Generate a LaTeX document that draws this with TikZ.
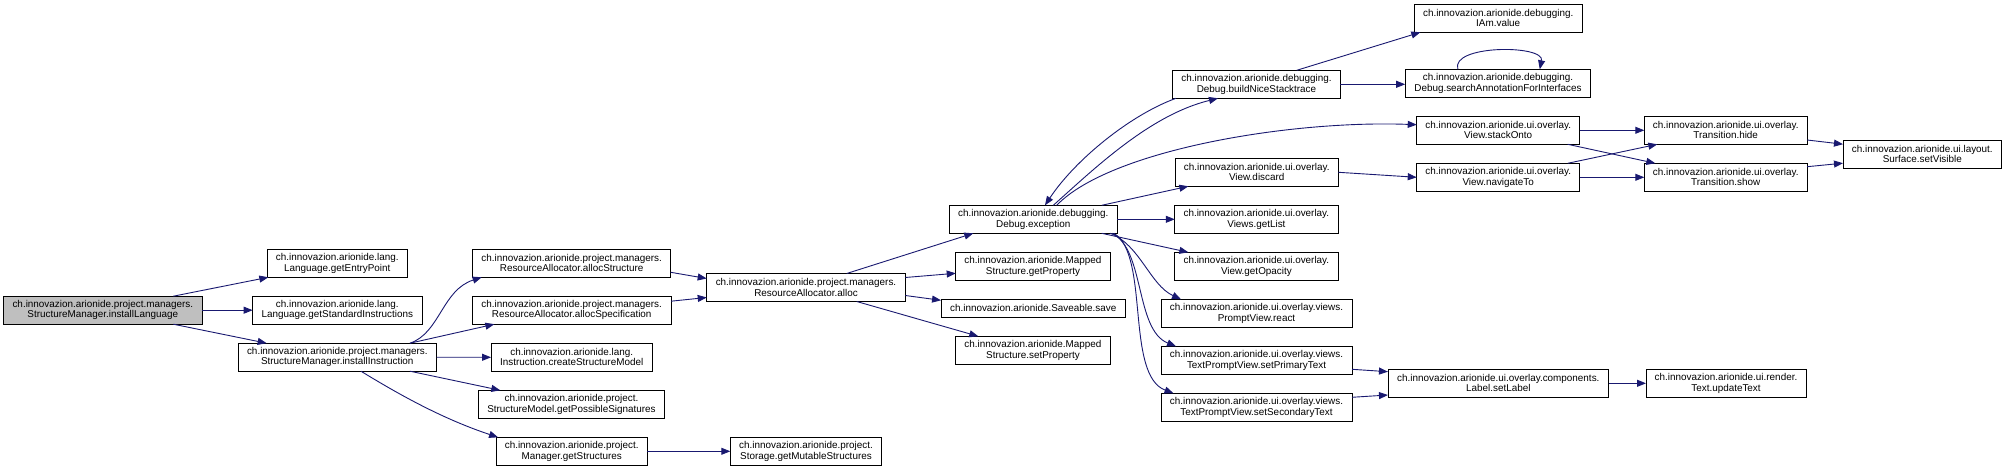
\documentclass[tikz,border=0pt]{standalone}
\usepackage{fontspec}
\setmainfont{Liberation Sans}
\usetikzlibrary{arrows.meta,calc}
\definecolor{edgecol}{HTML}{191970}
\definecolor{rootfill}{HTML}{BFBFBF}
\tikzset{
  fn/.style={draw=black, line width=0.9pt, fill=white, inner xsep=1pt, inner ysep=2pt, outer sep=0pt,
    minimum height=28pt, align=center, font=\fontsize{9.9pt}{10.3pt}\selectfont},
  fnroot/.style={fn, fill=rootfill},
  edge/.style={draw=edgecol, line width=0.9pt, -{Triangle[length=9pt,width=7pt]}},
}
\begin{document}
\begin{tikzpicture}[x=1pt,y=-1pt]
\useasboundingbox (0,0) rectangle (2006,470);
% column 0
\node[fnroot, minimum width=199pt] (root) at (102.8,310.2) {ch.innovazion.arionide.project.managers.\\StructureManager.installLanguage};
% column 1
\node[fn, minimum width=140pt] (gep) at (337.3,263.3) {ch.innovazion.arionide.lang.\\Language.getEntryPoint};
\node[fn, minimum width=169.3pt] (gsi) at (337.3,310.2) {ch.innovazion.arionide.lang.\\Language.getStandardInstructions};
\node[fn, minimum width=198.7pt] (ii) at (337.3,357.2) {ch.innovazion.arionide.project.managers.\\StructureManager.installInstruction};
% column 2
\node[fn, minimum width=198pt] (as) at (571.7,263.3) {ch.innovazion.arionide.project.managers.\\ResourceAllocator.allocStructure};
\node[fn, minimum width=198.7pt] (asp) at (571.7,310.2) {ch.innovazion.arionide.project.managers.\\ResourceAllocator.allocSpecification};
\node[fn, minimum width=161.3pt] (csm) at (571.7,357.3) {ch.innovazion.arionide.lang.\\Instruction.createStructureModel};
\node[fn, minimum width=186.4pt] (gps) at (571.5,404.3) {ch.innovazion.arionide.project.\\StructureModel.getPossibleSignatures};
\node[fn, minimum width=151.3pt] (mgs) at (571.7,451.3) {ch.innovazion.arionide.project.\\Manager.getStructures};
% column 3
\node[fn, minimum width=198.6pt] (alloc) at (806,287.5) {ch.innovazion.arionide.project.managers.\\ResourceAllocator.alloc};
\node[fn, minimum width=151.4pt] (sms) at (806,451.3) {ch.innovazion.arionide.project.\\Storage.getMutableStructures};
% column 4
\node[fn, minimum width=168pt] (exc) at (1033.3,219.3) {ch.innovazion.arionide.debugging.\\Debug.exception};
\node[fn, minimum width=154.6pt] (gp) at (1033,266.3) {ch.innovazion.arionide.Mapped\\Structure.getProperty};
\node[fn, minimum width=184.3pt, minimum height=18pt] (save) at (1033.2,308.3) {ch.innovazion.arionide.Saveable.save};
\node[fn, minimum width=154.6pt] (sp) at (1033,350.3) {ch.innovazion.arionide.Mapped\\Structure.setProperty};
% column 5
\node[fn, minimum width=167.6pt] (bn) at (1256.5,84.3) {ch.innovazion.arionide.debugging.\\Debug.buildNiceStacktrace};
\node[fn, minimum width=163.3pt] (disc) at (1256.7,172.3) {ch.innovazion.arionide.ui.overlay.\\View.discard};
\node[fn, minimum width=163.3pt] (gl) at (1256.4,219.3) {ch.innovazion.arionide.ui.overlay.\\Views.getList};
\node[fn, minimum width=163.3pt] (go) at (1256.4,266.3) {ch.innovazion.arionide.ui.overlay.\\View.getOpacity};
\node[fn, minimum width=191pt] (react) at (1256.5,313.3) {ch.innovazion.arionide.ui.overlay.views.\\PromptView.react};
\node[fn, minimum width=191pt] (prim) at (1256.5,360.3) {ch.innovazion.arionide.ui.overlay.views.\\TextPromptView.setPrimaryText};
\node[fn, minimum width=191pt] (sec) at (1256.5,407.3) {ch.innovazion.arionide.ui.overlay.views.\\TextPromptView.setSecondaryText};
% column 6
\node[fn, minimum width=167.7pt] (iam) at (1498.2,18.3) {ch.innovazion.arionide.debugging.\\IAm.value};
\node[fn, minimum width=185.7pt] (search) at (1498,83.3) {ch.innovazion.arionide.debugging.\\Debug.searchAnnotationForInterfaces};
\node[fn, minimum width=163pt] (so) at (1498.2,130.3) {ch.innovazion.arionide.ui.overlay.\\View.stackOnto};
\node[fn, minimum width=163pt] (nav) at (1498.2,177.3) {ch.innovazion.arionide.ui.overlay.\\View.navigateTo};
\node[fn, minimum width=220.7pt] (lab) at (1498.3,383.3) {ch.innovazion.arionide.ui.overlay.components.\\Label.setLabel};
% column 7
\node[fn, minimum width=162.8pt] (hide) at (1725.7,130.3) {ch.innovazion.arionide.ui.overlay.\\Transition.hide};
\node[fn, minimum width=162.8pt] (show) at (1725.7,177.3) {ch.innovazion.arionide.ui.overlay.\\Transition.show};
\node[fn, minimum width=160pt] (upd) at (1726,383.3) {ch.innovazion.arionide.ui.render.\\Text.updateText};
% column 8
\node[fn, minimum width=158.6pt] (surf) at (1922.3,154.2) {ch.innovazion.arionide.ui.layout.\\Surface.setVisible};

% edges from root
\draw[edge] ($(root.north west)+(170,0)$) -- ($(gep.south west)+(1,0)$);
\draw[edge] (root.east) -- (gsi.west);
\draw[edge] ($(root.south west)+(170,0)$) -- ($(ii.north west)+(28.7,0)$);
% edges from installInstruction
\draw[edge] ($(ii.north west)+(172,0)$) .. controls (440,333) and (442,290) .. ($(as.south west)+(9,0)$);
\draw[edge] ($(ii.north west)+(172,0)$) -- ($(asp.south west)+(22,0)$);
\draw[edge] (ii.east) -- (csm.west);
\draw[edge] ($(ii.south west)+(172,0)$) -- ($(gps.north west)+(22,0)$);
\draw[edge] ($(ii.south west)+(123,0)$) .. controls (395,392) and (440,418) .. ($(mgs.north west)+(2,0)$);
\draw[edge] (mgs.east) -- (sms.west);
% to alloc
\draw[edge] ($(as.east)+(0,9)$) -- ($(alloc.west)+(0,-9)$);
\draw[edge] ($(asp.east)+(0,-9)$) -- ($(alloc.west)+(0,10)$);
% from alloc
\draw[edge] ($(alloc.north west)+(140,0)$) -- ($(exc.south west)+(24,0)$);
\draw[edge] ($(alloc.east)+(0,-10)$) -- ($(gp.west)+(0,7)$);
\draw[edge] ($(alloc.east)+(0,8)$) -- ($(save.west)+(0,-8)$);
\draw[edge] ($(alloc.south west)+(150,0)$) -- ($(sp.north west)+(22.6,0)$);
% from Debug.exception
\draw[edge] ($(exc.north west)+(104,0)$) .. controls (1095,168) and (1150,115) .. ($(bn.south west)+(45.3,0)$);
\draw[edge] ($(bn.south west)+(3.3,0)$) .. controls (1130,115) and (1075,160) .. ($(exc.north west)+(95.7,0)$);
\draw[edge] ($(exc.north west)+(107.4,0)$) .. controls (1110,150) and (1290,120) .. ($(so.west)+(0,-5.6)$);
\draw[edge] ($(exc.north west)+(152.4,0)$) -- ($(disc.south west)+(13.3,0)$);
\draw[edge] (exc.east) -- (gl.west);
\draw[edge] ($(exc.south west)+(152.4,0)$) -- ($(go.north west)+(13.6,0)$);
\draw[edge] ($(exc.south west)+(161,0)$) .. controls (1140,245) and (1150,285) .. ($(react.north west)+(20,0)$);
\draw[edge] ($(exc.south west)+(163,0)$) .. controls (1145,250) and (1135,330) .. ($(prim.north west)+(15,0)$);
\draw[edge] ($(exc.south west)+(164.5,0)$) .. controls (1150,255) and (1125,375) .. ($(sec.north west)+(12.5,0)$);
% from buildNiceStacktrace
\draw[edge] ($(bn.north west)+(124,0)$) -- ($(iam.south west)+(6,0)$);
\draw[edge] (bn.east) -- (bn.east -| search.west);
\draw[edge] ($(search.north west)+(52.7,0)$) .. controls (1450,44.5) and (1545,44.5) .. ($(search.north west)+(134.6,0)$);
% overlay views
\draw[edge] (disc.east) -- (nav.west);
\draw[edge] (so.east) -- (hide.west);
\draw[edge] ($(so.south west)+(151,0)$) -- ($(show.north west)+(11,0)$);
\draw[edge] ($(nav.north west)+(151,0)$) -- ($(hide.south west)+(13,0)$);
\draw[edge] (nav.east) -- (show.west);
\draw[edge] ($(hide.east)+(0,9.7)$) -- ($(surf.west)+(0,-10)$);
\draw[edge] ($(show.east)+(0,-10.6)$) -- ($(surf.west)+(0,9)$);
% labels
\draw[edge] ($(prim.east)+(0,9)$) -- ($(lab.west)+(0,-11.6)$);
\draw[edge] ($(sec.east)+(0,-10)$) -- ($(lab.west)+(0,11.7)$);
\draw[edge] (lab.east) -- (upd.west);
\end{tikzpicture}
\end{document}
